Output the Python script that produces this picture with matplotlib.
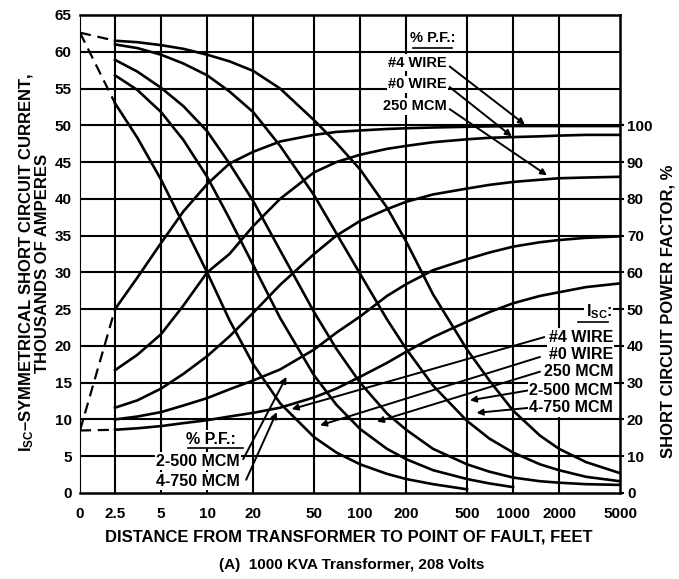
import numpy as np
import matplotlib
matplotlib.use('Agg')
import matplotlib.pyplot as plt

plt.rcParams['font.family'] = ['Liberation Sans', 'DejaVu Sans']
plt.rcParams['font.weight'] = 'bold'
plt.rcParams['mathtext.fontset'] = 'custom'
plt.rcParams['mathtext.rm'] = 'Liberation Sans:bold'
plt.rcParams['mathtext.default'] = 'rm'

# distance from transformer, feet
dist = [2.5, 3.5, 5, 7, 10, 14, 20, 30, 50, 70, 100, 150, 200, 300, 500,
        700, 1000, 1500, 2000, 3000, 5000]

# symmetrical short circuit current, thousands of amperes
isc_4_750 = [61.5, 61.3, 60.9, 60.4, 59.6, 58.7, 57.4, 55.0, 50.7, 47.6, 44.0,
             38.8, 34.2, 27.0, 19.5, 15.3, 11.2, 7.8, 6.0, 4.2, 2.7]
isc_2_500 = [61.0, 60.5, 59.6, 58.4, 56.8, 54.6, 51.8, 47.2, 40.5, 35.3, 29.8,
             23.6, 19.6, 14.6, 9.8, 7.4, 5.5, 3.9, 3.1, 2.2, 1.6]
isc_250 = [58.9, 57.3, 55.1, 52.6, 49.2, 44.8, 39.7, 33.0, 24.6, 19.6, 15.0,
           10.8, 8.6, 6.0, 3.9, 2.9, 2.1, 1.6, 1.4, 1.2, 1.1]
isc_0 = [56.8, 54.8, 51.8, 48.0, 43.0, 37.3, 31.0, 23.8, 16.0, 12.0, 8.7,
         6.0, 4.6, 3.1, 1.9, 1.3, 0.8]
isc_4 = [53.0, 48.3, 42.6, 36.5, 30.0, 23.5, 17.5, 12.2, 7.6, 5.5, 3.9,
         2.6, 1.9, 1.2, 0.5]

# short circuit power factor, %
pf_4 = [50, 58.6, 68, 76.6, 84, 89.6, 92.8, 95.6, 97.4, 98.2, 98.6,
        99.0, 99.2, 99.4, 99.6, 99.7, 99.8, 99.8, 99.8, 99.8, 99.8]
pf_0 = [33.4, 37.6, 43.2, 51, 60, 65, 72.6, 80, 87.2, 90, 92,
        93.6, 94.4, 95.4, 96.2, 96.6, 96.8, 97.0, 97.2, 97.4, 97.4]
pf_250 = [23.2, 25.2, 28.4, 32.4, 37.2, 42.6, 49, 56.6, 65, 70, 74,
          77.2, 79.2, 81.2, 82.8, 83.8, 84.6, 85.2, 85.6, 85.8, 86]
pf_2_500 = [20, 20.8, 22, 23.8, 25.8, 28.2, 30.6, 33.6, 39, 43.6, 48,
            53.6, 56.8, 60.6, 63.6, 65.4, 67, 68.2, 68.8, 69.4, 69.8]
pf_4_750 = [17.2, 17.6, 18.2, 19, 19.8, 20.8, 21.8, 23.2, 26, 28.4, 31.6,
            35.4, 38.4, 42.4, 46.6, 49.2, 51.6, 53.6, 54.6, 56, 57]

# dashed lead-ins from zero distance
dash_dist = [0, 2.5]
isc_dash_top = [62.6, 61.5]
isc_dash_4 = [62.6, 53.0]
pf_dash_4 = [17, 50]
pf_dash_4_750 = [17, 17.2]

x_ticks = [0, 2.5, 5, 10, 20, 50, 100, 200, 500, 1000, 2000, 5000]
x_labels = ['0', '2.5', '5', '10', '20', '50', '100', '200', '500', '1000', '2000', '5000']

LOG25 = np.log10(2.5)
U0 = LOG25 - 0.229


def fwd(d):
    d = np.asarray(d, dtype=float)
    lin = U0 + (LOG25 - U0) * d / 2.5
    lg = np.log10(np.maximum(d, 2.5))
    return np.where(d < 2.5, lin, lg)


def inv(u):
    u = np.asarray(u, dtype=float)
    lin = (u - U0) / (LOG25 - U0) * 2.5
    return np.where(u < LOG25, lin, 10 ** np.minimum(u, 10))


fig = plt.figure(figsize=(6.79, 5.79), dpi=100)
ax = fig.add_axes([80 / 679, 1 - 493 / 579, 540 / 679, 478 / 579])
ax.set_xscale('function', functions=(fwd, inv))
ax.set_xlim(0, 5000)
ax.set_ylim(0, 65)

# grid
for d in x_ticks[1:-1]:
    ax.axvline(d, color='black', lw=1.5, zorder=1)
for v in range(5, 65, 5):
    ax.axhline(v, color='black', lw=1.5, zorder=1)

ax.set_xticks(x_ticks)
ax.set_xticklabels(x_labels)
ax.set_yticks(range(0, 70, 5))
ax.minorticks_off()
ax.tick_params(axis='both', length=0, labelsize=11)
ax.tick_params(axis='x', pad=10)
ax.tick_params(axis='y', pad=6)
for s in ['top', 'right', 'bottom']:
    ax.spines[s].set_linewidth(1.8)
ax.spines['left'].set_linewidth(0.8)

lw = 1.9
for y in [isc_4_750, isc_2_500, isc_250, isc_0, isc_4]:
    ax.plot(dist[:len(y)], y, color='black', lw=lw, zorder=3)
ax.plot(dash_dist, isc_dash_top, color='black', lw=1.6, ls=(0, (5, 3)), zorder=3)
ax.plot(dash_dist, isc_dash_4, color='black', lw=1.6, ls=(0, (5, 3)), zorder=3)

ax2 = ax.twinx()
ax2.set_ylim(0, 130)
ax2.set_yticks(range(0, 110, 10))
ax2.minorticks_off()
ax2.tick_params(axis='y', length=3, width=1.5, pad=2, labelsize=11)
for s in ax2.spines.values():
    s.set_visible(False)

for y in [pf_4, pf_0, pf_250, pf_2_500, pf_4_750]:
    ax2.plot(dist[:len(y)], y, color='black', lw=lw, zorder=3)
ax2.plot(dash_dist, pf_dash_4, color='black', lw=1.6, ls=(0, (5, 3)), zorder=3)
ax2.plot(dash_dist, pf_dash_4_750, color='black', lw=1.6, ls=(0, (5, 3)), zorder=3)

box = dict(facecolor='white', edgecolor='none', pad=1)
tk = dict(fontsize=10.5, color='black', zorder=6, bbox=box)
tk_big = dict(tk, fontsize=11.5)
arrow = dict(arrowstyle='-|>', color='black', lw=1.4, mutation_scale=9,
             shrinkA=0, shrinkB=0)
uline = dict(color='black', lw=1.2, zorder=7)

# top-right power factor key
ax2.text(300, 123.8, '% P.F.:', ha='center', va='center', **tk)
ax2.plot([222, 400], [121.0, 121.0], **uline)
ax2.text(370, 117.0, '#4 WIRE', ha='right', va='center', **tk)
ax2.text(370, 111.2, '#0 WIRE', ha='right', va='center', **tk)
ax2.text(370, 105.2, '250 MCM', ha='right', va='center', **tk)
ax2.annotate('', xy=(1195, 100.2), xytext=(385, 116.0), arrowprops=arrow, zorder=5)
ax2.annotate('', xy=(980, 97.0), xytext=(385, 110.4), arrowprops=arrow, zorder=5)
ax2.annotate('', xy=(1665, 86.4), xytext=(385, 104.4), arrowprops=arrow, zorder=5)

# bottom-left power factor key
ax2.text(10.6, 14.6, '% P.F.:', ha='center', va='center', **tk_big)
ax2.plot([7.5, 17.1], [12.2, 12.2], **uline)
ax2.text(16.4, 8.6, '2-500 MCM', ha='right', va='center', **tk_big)
ax2.text(16.4, 3.2, '4-750 MCM', ha='right', va='center', **tk_big)
ax2.annotate('', xy=(33, 31.6), xytext=(17.2, 9.2), arrowprops=arrow, zorder=5)
ax2.annotate('', xy=(28.5, 22.0), xytext=(18, 3.6), arrowprops=arrow, zorder=5)

# right current key
ax2.text(4430, 49.2, 'I$_{SC}$:', ha='right', va='center', **tk_big)
ax2.plot([2650, 4175], [46.4, 46.4], **uline)
ax2.text(4500, 42.4, '#4 WIRE', ha='right', va='center', **tk_big)
ax2.text(4500, 37.6, '#0 WIRE', ha='right', va='center', **tk_big)
ax2.text(4500, 33.0, '250 MCM', ha='right', va='center', **tk_big)
ax2.text(4500, 28.0, '2-500 MCM', ha='right', va='center', **tk_big)
ax2.text(4500, 23.2, '4-750 MCM', ha='right', va='center', **tk_big)
ax2.annotate('', xy=(35.7, 22.8), xytext=(1600, 42.4), arrowprops=arrow, zorder=5)
ax2.annotate('', xy=(54.7, 18.4), xytext=(1500, 37.0), arrowprops=arrow, zorder=5)
ax2.annotate('', xy=(129, 19.4), xytext=(1500, 33.0), arrowprops=arrow, zorder=5)
ax2.annotate('', xy=(522, 25.2), xytext=(1300, 28.0), arrowprops=arrow, zorder=5)
ax2.annotate('', xy=(577, 21.8), xytext=(1300, 23.2), arrowprops=arrow, zorder=5)

# axis titles
fig.text(34 / 679, 1 - 263 / 579,
         'I$_{SC}$\u2013SYMMETRICAL SHORT CIRCUIT CURRENT,\nTHOUSANDS OF AMPERES',
         rotation=90, ha='center', va='center', multialignment='center',
         fontsize=12, linespacing=0.95)
fig.text(668 / 679, 1 - 311 / 579, 'SHORT CIRCUIT POWER FACTOR, %',
         rotation=90, ha='center', va='center', fontsize=12)
fig.text(349 / 679, 1 - 537 / 579, 'DISTANCE FROM TRANSFORMER TO POINT OF FAULT, FEET',
         ha='center', va='center', fontsize=12)
fig.text(352 / 679, 1 - 565 / 579, '(A)  1000 KVA Transformer, 208 Volts',
         ha='center', va='center', fontsize=11)

fig.savefig('out.png', dpi=100)
